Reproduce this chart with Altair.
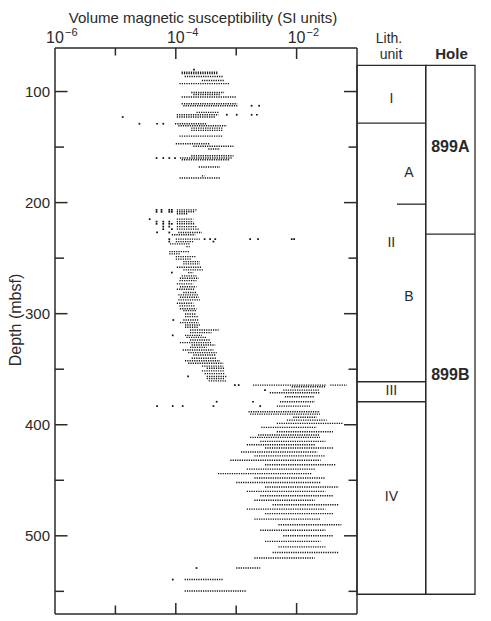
import altair as alt
import pandas as pd

# ---------------- data ----------------
# horizontal runs of closely spaced measurements: depth (mbsf), min / max susceptibility (SI)
run_depth = [82.7, 83.9, 86.4, 90.0, 92.9, 100.8, 102.6, 104.9, 111.0, 112.8, 118.8, 120.9,
             122.9, 129.0, 130.8, 132.9, 135.0, 140.1, 147.0, 149.2, 151.8, 157.8, 159.9, 161.4,
             168.0, 175.9, 177.9,
             206.5, 208.3, 210.1, 214.9, 217.1, 219.1, 221.6, 223.9, 226.9, 229.0, 232.9, 235.1,
             237.2, 239.6, 244.1, 246.2, 248.6, 250.9, 253.1, 255.2, 258.2, 260.6, 263.0, 266.0,
             268.1, 270.2, 273.2, 275.7, 278.0, 281.0, 283.1, 285.2, 287.6, 290.6, 293.0, 295.5,
             297.3, 300.3, 302.7, 305.7, 308.1, 310.2, 312.2, 314.7, 317.1, 319.5, 321.3, 323.7,
             326.1, 328.2, 330.3, 332.7, 335.1, 337.2, 340.2, 342.4, 344.7, 347.2, 349.2, 351.5,
             354.0, 356.5, 358.5, 360.5,
             364.3, 364.3, 365.8, 368.8, 371.2, 374.8, 379.3, 383.2, 388.3, 390.4, 393.3, 395.8,
             398.8, 402.4, 406.3, 409.3, 411.4,
             415.0, 418.0, 421.0, 424.5, 428.0, 432.0, 436.0, 440.0, 444.0, 448.0, 452.0, 456.0,
             460.0, 464.0, 468.0, 472.0, 476.0, 480.0, 485.0, 490.0, 495.0, 500.0, 505.0, 510.0,
             515.0, 520.0, 529.0, 539.4, 549.7]
run_kmin = [1.25e-4, 1.25e-4, 1.4e-4, 2.7e-4, 1.15e-4, 1.8e-4, 1.95e-4, 1.25e-4, 1.25e-4, 1.33e-4, 2.2e-4, 1.04e-4,
            1.04e-4, 9.7e-5, 1.1e-4, 1.8e-4, 1.8e-4, 1.15e-4, 1.0e-4, 1.95e-4, 3.45e-4, 1.8e-4, 1.17e-4, 1.25e-4,
            2.4e-4, 2.7e-4, 1.15e-4,
            1.04e-4, 1.04e-4, 1.04e-4, 1.04e-4, 1.04e-4, 1.04e-4, 1.04e-4, 1.04e-4, 1.1e-4, 8.6e-5, 1.0e-4, 1.0e-4,
            8.0e-5, 1.5e-4, 7.8e-5, 7.8e-5, 1.0e-4, 1.0e-4, 1.33e-4, 1.33e-4, 1.04e-4, 1.33e-4, 1.6e-4, 1.25e-4,
            1.17e-4, 1.15e-4, 1.04e-4, 1.17e-4, 1.04e-4, 1.33e-4, 1.1e-4, 1.17e-4, 1.1e-4, 1.04e-4, 1.15e-4, 1.17e-4,
            1.33e-4, 1.42e-4, 1.42e-4, 1.33e-4, 1.17e-4, 1.42e-4, 1.42e-4, 1.72e-4, 1.72e-4, 1.42e-4, 1.5e-4, 1.72e-4,
            1.17e-4, 1.83e-4, 1.72e-4, 1.3e-4, 1.6e-4, 1.95e-4, 1.83e-4, 1.42e-4, 1.6e-4, 2.7e-4, 3.25e-4, 2.7e-4,
            3.0e-4, 3.25e-4, 3.25e-4, 3.5e-4,
            1.9e-3, 3.6e-2, 8.3e-3, 6.0e-3, 3.6e-3, 6.4e-3, 5.3e-3, 4.7e-3, 1.6e-3, 1.7e-3, 8.8e-3, 6.9e-3,
            4.7e-3, 2.6e-3, 4.7e-3, 2.3e-3, 1.7e-3,
            2.5e-3, 1.5e-3, 3.0e-3, 1.2e-3, 2.0e-3, 8.0e-4, 3.0e-3, 1.5e-3, 5.0e-4, 2.0e-3, 1.0e-3, 3.0e-3,
            1.5e-3, 2.5e-3, 2.0e-3, 4.0e-3, 1.5e-3, 3.0e-3, 2.0e-3, 5.0e-3, 2.5e-3, 6.0e-3, 3.0e-3, 5.0e-3,
            4.0e-3, 2.0e-3, 1.0e-3, 1.4e-4, 1.4e-4]
run_kmax = [4.9e-4, 4.9e-4, 6.1e-4, 6.3e-4, 7.9e-4, 6.3e-4, 5.4e-4, 9.9e-4, 1.04e-3, 1.04e-3, 5.1e-4, 5.1e-4,
            4.5e-4, 3.2e-4, 7.0e-4, 6.1e-4, 6.1e-4, 6.0e-4, 3.7e-4, 9.0e-4, 5.4e-4, 9.0e-4, 8.4e-4, 7.9e-4,
            5.4e-4, 3.0e-4, 5.4e-4,
            2.2e-4, 2.1e-4, 1.6e-4, 1.95e-4, 1.95e-4, 2.1e-4, 2.2e-4, 2.4e-4, 2.7e-4, 2.1e-4, 2.5e-4, 2.0e-4,
            1.7e-4, 1.7e-4, 1.7e-4, 1.2e-4, 2.2e-4, 1.8e-4, 2.5e-4, 2.5e-4, 2.7e-4, 2.85e-4, 1.95e-4, 2.2e-4,
            2.4e-4, 2.2e-4, 1.95e-4, 2.2e-4, 2.1e-4, 2.2e-4, 2.4e-4, 2.4e-4, 2.5e-4, 1.95e-4, 2.1e-4, 2.2e-4,
            2.2e-4, 2.2e-4, 2.4e-4, 2.4e-4, 2.4e-4, 2.5e-4, 2.4e-4, 5.1e-4, 3.9e-4, 2.7e-4, 3.25e-4, 3.7e-4,
            3.9e-4, 4.5e-4, 3.25e-4, 4.2e-4, 4.75e-4, 4.5e-4, 4.75e-4, 5.4e-4, 6.1e-4, 6.1e-4, 6.5e-4, 6.5e-4,
            6.5e-4, 7.0e-4, 6.5e-4, 7.0e-4,
            3.15e-2, 6.8e-2, 2.95e-2, 2.44e-2, 2.44e-2, 2.0e-2, 2.0e-2, 1.67e-2, 2.44e-2, 2.44e-2, 2.15e-2, 3.15e-2,
            5.9e-2, 2.15e-2, 4.0e-2, 2.44e-2, 2.44e-2,
            3.0e-2, 2.0e-2, 4.0e-2, 2.2e-2, 3.0e-2, 2.5e-2, 4.5e-2, 2.0e-2, 1.8e-2, 3.0e-2, 2.5e-2, 5.0e-2,
            3.0e-2, 4.0e-2, 2.0e-2, 5.0e-2, 3.0e-2, 4.0e-2, 2.5e-2, 5.5e-2, 3.0e-2, 4.0e-2, 2.5e-2, 3.0e-2,
            5.0e-2, 2.0e-2, 2.5e-3, 6.0e-4, 1.5e-3]

# isolated measurements: depth (mbsf), susceptibility (SI)
pt_depth = [80.3, 112.8, 112.8, 120.9, 120.9, 120.9, 120.9, 122.9, 129.0, 129.0, 129.0,
            159.9, 159.9, 159.9, 159.9,
            206.5, 206.5, 206.5, 206.5, 208.3, 208.3, 208.3, 208.3, 214.9, 217.1, 217.1, 217.1,
            219.1, 219.1, 219.1, 219.1, 221.6, 221.6, 223.9, 223.9, 226.9, 226.9,
            232.9, 232.9, 232.9, 232.9, 232.9, 232.9, 232.9, 232.9, 235.1, 235.1, 263.0, 305.7, 319.5,
            356.5, 364.3, 364.3, 368.8, 379.3, 379.3, 383.2, 383.2, 383.2, 383.2, 383.2, 529.0, 539.4]
pt_k = [2.0e-4, 1.8e-3, 2.4e-3, 7.0e-4, 1.02e-3, 1.8e-3, 2.2e-3, 1.32e-5, 2.5e-5, 4.9e-5, 6.2e-5,
        4.8e-5, 6.2e-5, 7.8e-5, 9.7e-5,
        4.8e-5, 5.8e-5, 7.8e-5, 8.6e-5, 4.8e-5, 5.8e-5, 7.8e-5, 8.6e-5, 3.7e-5, 4.8e-5, 6.2e-5, 7.8e-5,
        4.8e-5, 6.2e-5, 7.8e-5, 8.6e-5, 6.2e-5, 7.8e-5, 6.2e-5, 8.6e-5, 4.9e-5, 7.8e-5,
        7.8e-5, 3.0e-4, 3.7e-4, 4.5e-4, 1.7e-3, 2.3e-3, 8.3e-3, 9.1e-3, 7.8e-5, 4.2e-4, 8.6e-5, 9.1e-5, 8.9e-5,
        1.6e-4, 9.5e-4, 1.1e-3, 3.0e-3, 4.75e-4, 1.9e-3, 4.9e-5, 8.9e-5, 1.3e-4, 4.2e-4, 2.5e-3, 2.2e-4, 8.9e-5]

# axis ticks and labels
depth_major = [100, 200, 300, 400, 500]
depth_minor = [150, 250, 350, 450, 550]
k_major = [1e-4, 1e-2]
k_minor = [1e-5, 1e-3]
k_labelled = [1e-6, 1e-4, 1e-2]
k_exponent = ["\u22126", "\u22124", "\u22122"]
x_title = "Volume magnetic susceptibility (SI units)"
y_title = "Depth (mbsf)"

# lithology / hole columns (depths in mbsf)
column_top = [76.4]
column_bottom = [552.6]
unit_bounds = [128.4, 361.3, 379.3]
subunit_bounds = [201.4]
hole_bounds = [228.4]
unit_names = ["I", "II", "III", "IV"]
unit_depths = [106.7, 236.3, 370.0, 465.2]
subunit_names = ["A", "B"]
subunit_depths = [172.9, 284.6]
hole_names = ["899A", "899B"]
hole_depths = [149.7, 355.2]

DEPTH_DOMAIN = [60.8, 570.4]
K_DOMAIN = [1e-6, 1e-1]

# ---------------- layout / style ----------------
INK = "#2a2a2a"
FONT = "Liberation Sans"
PLOT_W = 302
LITH_R = 370.7
TOTAL_W = 420
H = 566
LW = 1.5

xs = alt.Scale(type="log", domain=K_DOMAIN, range=[0, PLOT_W])
ys = alt.Scale(domain=DEPTH_DOMAIN, reverse=True, nice=False, zero=False)


def X(field):
    return alt.X(field, scale=xs, axis=None)


def Y(field):
    return alt.Y(field, scale=ys, axis=None)


runs = pd.DataFrame({"d": run_depth, "kmin": run_kmin, "kmax": run_kmax})
pts = pd.DataFrame({"d": pt_depth, "k": pt_k})
one = pd.DataFrame({"a": [0]})

base_runs = alt.Chart(runs).mark_rule(color="#111", strokeWidth=1.4, strokeDash=[1.2, 1.1]).encode(
    x=X("kmin:Q"), x2="kmax:Q", y=Y("d:Q"))
points = alt.Chart(pts).mark_square(size=3, color="#111", opacity=1).encode(
    x=X("k:Q"), y=Y("d:Q"))


def frame(x0, x1, y0, y1):
    return alt.Chart(one).mark_rule(color=INK, strokeWidth=LW).encode(
        x=alt.value(x0), x2=alt.value(x1), y=alt.value(y0), y2=alt.value(y1))


frames = [frame(0, PLOT_W, 0, 0), frame(0, PLOT_W, H, H), frame(0, 0, 0, H),
          frame(PLOT_W, PLOT_W, 0, H)]


def yticks(vals, x0, x1):
    return alt.Chart(pd.DataFrame({"d": vals})).mark_rule(color=INK, strokeWidth=LW).encode(
        y=Y("d:Q"), x=alt.value(x0), x2=alt.value(x1))


def xticks(vals, y0, y1):
    return alt.Chart(pd.DataFrame({"k": vals})).mark_rule(color=INK, strokeWidth=LW).encode(
        x=X("k:Q"), y=alt.value(y0), y2=alt.value(y1))


tick_layers = [
    yticks(depth_major, 0, 12.5), yticks(depth_minor, 0, 9),
    yticks(depth_major, PLOT_W - 13, PLOT_W), yticks(depth_minor, PLOT_W - 8.5, PLOT_W),
    xticks(k_major, 0, 11), xticks(k_minor, 0, 7.5),
    xticks(k_major, H - 11, H), xticks(k_minor, H - 8.5, H),
]

# tick labels and axis titles
xlab = pd.DataFrame({"k": k_labelled, "e": k_exponent})
x_base = alt.Chart(xlab).mark_text(font=FONT, fontSize=16, color=INK, align="center",
                                   baseline="alphabetic").encode(
    x=X("k:Q"), y=alt.value(-5), text=alt.value("10"))
x_sup = alt.Chart(xlab).mark_text(font=FONT, fontSize=11, color=INK, align="left",
                                  baseline="alphabetic", dx=10).encode(
    x=X("k:Q"), y=alt.value(-12), text="e:N")
ylab = alt.Chart(pd.DataFrame({"d": depth_major})).mark_text(
    font=FONT, fontSize=15, color=INK, align="right", baseline="middle", dx=-5).encode(
    y=Y("d:Q"), x=alt.value(0), text="d:N")
x_title_mark = alt.Chart(one).mark_text(text=x_title, font=FONT, fontSize=15, color=INK,
                                        align="center", baseline="top").encode(
    x=alt.value(148), y=alt.value(-37))
y_title_mark = alt.Chart(one).mark_text(text=y_title, font=FONT, fontSize=16, color=INK,
                                        align="center", baseline="middle", angle=270).encode(
    x=alt.value(-39), y=alt.value(272))

col_df = pd.DataFrame({"top": column_top, "bottom": column_bottom})
lith_box = alt.Chart(col_df).mark_rect(fillOpacity=0, stroke=INK, strokeWidth=1.3).encode(
    y=Y("top:Q"), y2="bottom:Q", x=alt.value(PLOT_W), x2=alt.value(LITH_R))
hole_box = alt.Chart(col_df).mark_rect(fillOpacity=0, stroke=INK, strokeWidth=1.3).encode(
    y=Y("top:Q"), y2="bottom:Q", x=alt.value(LITH_R), x2=alt.value(TOTAL_W))


def hline(vals, x0, x1):
    return alt.Chart(pd.DataFrame({"d": vals})).mark_rule(color=INK, strokeWidth=1.3).encode(
        y=Y("d:Q"), x=alt.value(x0), x2=alt.value(x1))


bounds = [hline(unit_bounds, PLOT_W, LITH_R), hline(subunit_bounds, 342, LITH_R),
          hline(hole_bounds, LITH_R, TOTAL_W)]


def labels(names, depths, x, size, weight="normal"):
    return alt.Chart(pd.DataFrame({"t": names, "d": depths})).mark_text(
        font=FONT, fontSize=size, fontWeight=weight, color=INK, align="center", baseline="middle"
    ).encode(y=Y("d:Q"), x=alt.value(x), text="t:N")


texts = [labels(unit_names, unit_depths, (PLOT_W + LITH_R) / 2, 14),
         labels(subunit_names, subunit_depths, 354, 14),
         labels(hole_names, hole_depths, (LITH_R + TOTAL_W) / 2, 16, "bold")]


def header(txt, x, y, size, weight="normal"):
    return alt.Chart(one).mark_text(text=txt, font=FONT, fontSize=size, fontWeight=weight, color=INK,
                                    align="center", baseline="middle").encode(
        x=alt.value(x), y=alt.value(y))


headers = [header("Lith.", 334, -9, 14), header("unit", 336, 6.5, 14),
           header("Hole", 396.5, 6, 15, "bold")]

chart = alt.layer(
    base_runs, points, *frames, *tick_layers, x_base, x_sup, ylab, x_title_mark, y_title_mark,
    lith_box, hole_box, *bounds, *texts, *headers
).properties(
    width=TOTAL_W, height=H, padding={"left": 0, "top": 3, "right": 2, "bottom": 0}
).configure(font=FONT).configure_view(stroke=None)

chart.save("out.html", embed_options={"renderer": "svg", "actions": False})
